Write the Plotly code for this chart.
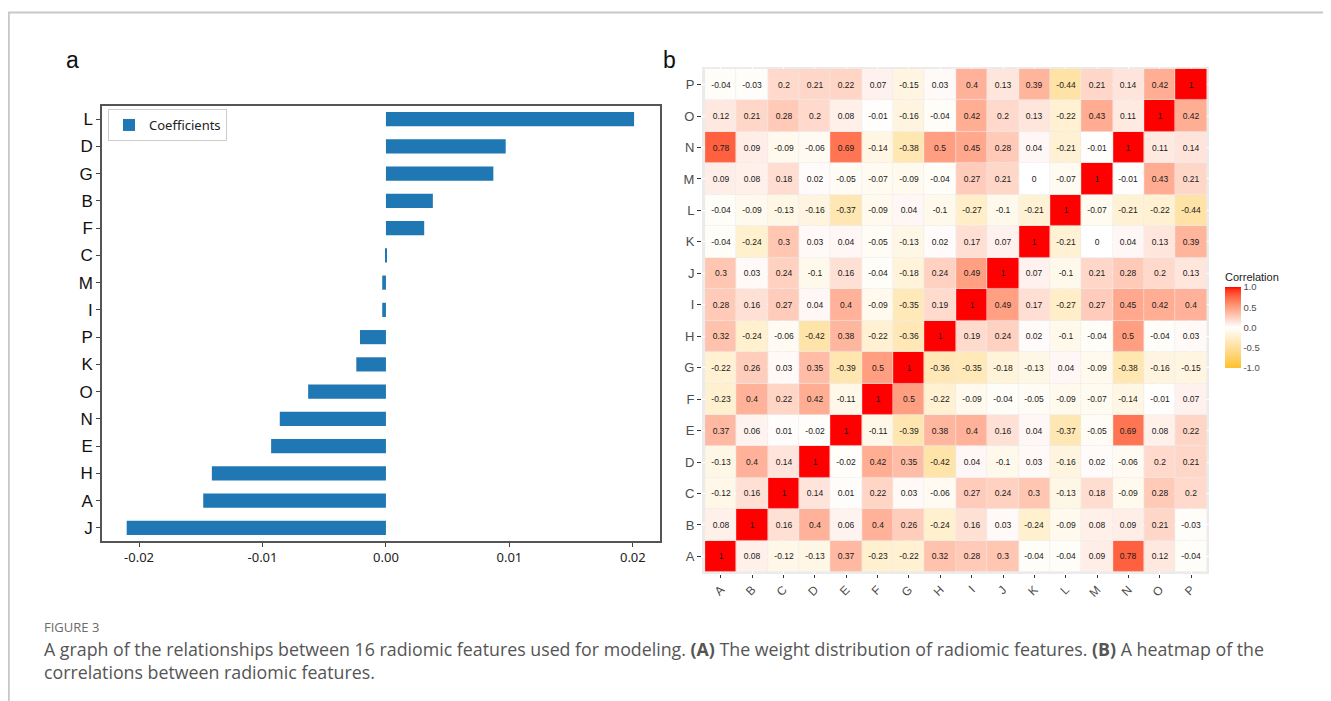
import plotly.graph_objects as go

# ---------------- data ----------------
features = list("ABCDEFGHIJKLMNOP")

coef_labels = ["J", "A", "H", "E", "N", "O", "K", "P", "I", "M", "C", "F", "B", "G", "D", "L"]
coef_values = [-0.0210, -0.0148, -0.0141, -0.0093, -0.0086, -0.0063, -0.0024, -0.0021,
               -0.0003, -0.0003, 0.00001, 0.0031, 0.0038, 0.0087, 0.0097, 0.0201]
coef_ticks = [-0.02, -0.01, 0.0, 0.01, 0.02]
coef_ticktext = ["-0.02", "-0.01", "0.00", "0.01", "0.02"]

# rows A..P (bottom to top), columns A..P
corr_A = [1, 0.08, -0.12, -0.13, 0.37, -0.23, -0.22, 0.32, 0.28, 0.3, -0.04, -0.04, 0.09, 0.78, 0.12, -0.04]
corr_B = [0.08, 1, 0.16, 0.4, 0.06, 0.4, 0.26, -0.24, 0.16, 0.03, -0.24, -0.09, 0.08, 0.09, 0.21, -0.03]
corr_C = [-0.12, 0.16, 1, 0.14, 0.01, 0.22, 0.03, -0.06, 0.27, 0.24, 0.3, -0.13, 0.18, -0.09, 0.28, 0.2]
corr_D = [-0.13, 0.4, 0.14, 1, -0.02, 0.42, 0.35, -0.42, 0.04, -0.1, 0.03, -0.16, 0.02, -0.06, 0.2, 0.21]
corr_E = [0.37, 0.06, 0.01, -0.02, 1, -0.11, -0.39, 0.38, 0.4, 0.16, 0.04, -0.37, -0.05, 0.69, 0.08, 0.22]
corr_F = [-0.23, 0.4, 0.22, 0.42, -0.11, 1, 0.5, -0.22, -0.09, -0.04, -0.05, -0.09, -0.07, -0.14, -0.01, 0.07]
corr_G = [-0.22, 0.26, 0.03, 0.35, -0.39, 0.5, 1, -0.36, -0.35, -0.18, -0.13, 0.04, -0.09, -0.38, -0.16, -0.15]
corr_H = [0.32, -0.24, -0.06, -0.42, 0.38, -0.22, -0.36, 1, 0.19, 0.24, 0.02, -0.1, -0.04, 0.5, -0.04, 0.03]
corr_I = [0.28, 0.16, 0.27, 0.04, 0.4, -0.09, -0.35, 0.19, 1, 0.49, 0.17, -0.27, 0.27, 0.45, 0.42, 0.4]
corr_J = [0.3, 0.03, 0.24, -0.1, 0.16, -0.04, -0.18, 0.24, 0.49, 1, 0.07, -0.1, 0.21, 0.28, 0.2, 0.13]
corr_K = [-0.04, -0.24, 0.3, 0.03, 0.04, -0.05, -0.13, 0.02, 0.17, 0.07, 1, -0.21, 0, 0.04, 0.13, 0.39]
corr_L = [-0.04, -0.09, -0.13, -0.16, -0.37, -0.09, 0.04, -0.1, -0.27, -0.1, -0.21, 1, -0.07, -0.21, -0.22, -0.44]
corr_M = [0.09, 0.08, 0.18, 0.02, -0.05, -0.07, -0.09, -0.04, 0.27, 0.21, 0, -0.07, 1, -0.01, 0.43, 0.21]
corr_N = [0.78, 0.09, -0.09, -0.06, 0.69, -0.14, -0.38, 0.5, 0.45, 0.28, 0.04, -0.21, -0.01, 1, 0.11, 0.14]
corr_O = [0.12, 0.21, 0.28, 0.2, 0.08, -0.01, -0.16, -0.04, 0.42, 0.2, 0.13, -0.22, 0.43, 0.11, 1, 0.42]
corr_P = [-0.04, -0.03, 0.2, 0.21, 0.22, 0.07, -0.15, 0.03, 0.4, 0.13, 0.39, -0.44, 0.21, 0.14, 0.42, 1]
corr = [corr_A, corr_B, corr_C, corr_D, corr_E, corr_F, corr_G, corr_H,
        corr_I, corr_J, corr_K, corr_L, corr_M, corr_N, corr_O, corr_P]
corr_text = [["{:g}".format(v) for v in row] for row in corr]

cbar_ticks = [-1, -0.5, 0, 0.5, 1]
cbar_ticktext = ["-1.0", "-0.5", "0.0", "0.5", "1.0"]

# ---------------- colour scale (Lab interpolation like ggplot) ----------------
def srgb_to_lin(c):
    c = c / 255.0
    return c / 12.92 if c <= 0.04045 else ((c + 0.055) / 1.055) ** 2.4

def lin_to_srgb(c):
    c = max(0.0, min(1.0, c))
    v = 12.92 * c if c <= 0.0031308 else 1.055 * c ** (1 / 2.4) - 0.055
    return int(round(max(0, min(1, v)) * 255))

def rgb_to_lab(rgb):
    r, g, b = [srgb_to_lin(c) for c in rgb]
    X = 0.4124 * r + 0.3576 * g + 0.1805 * b
    Y = 0.2126 * r + 0.7152 * g + 0.0722 * b
    Z = 0.0193 * r + 0.1192 * g + 0.9505 * b
    def f(t):
        return t ** (1 / 3) if t > 0.008856 else 7.787 * t + 16 / 116
    fx, fy, fz = f(X / 0.95047), f(Y), f(Z / 1.08883)
    return (116 * fy - 16, 500 * (fx - fy), 200 * (fy - fz))

def lab_to_rgb(lab):
    L, a, b = lab
    fy = (L + 16) / 116
    fx = fy + a / 500
    fz = fy - b / 200
    def finv(t):
        return t ** 3 if t ** 3 > 0.008856 else (t - 16 / 116) / 7.787
    X, Y, Z = 0.95047 * finv(fx), finv(fy), 1.08883 * finv(fz)
    r = 3.2406 * X - 1.5372 * Y - 0.4986 * Z
    g = -0.9689 * X + 1.8758 * Y + 0.0415 * Z
    bb = 0.0557 * X - 0.2040 * Y + 1.0570 * Z
    return (lin_to_srgb(r), lin_to_srgb(g), lin_to_srgb(bb))

low_rgb, mid_rgb, high_rgb = (255, 193, 37), (255, 255, 255), (255, 0, 0)
lab_low, lab_mid, lab_high = rgb_to_lab(low_rgb), rgb_to_lab(mid_rgb), rgb_to_lab(high_rgb)
colorscale = []
N = 20
for i in range(N + 1):
    t = i / N
    lab = tuple(lab_low[k] + (lab_mid[k] - lab_low[k]) * t for k in range(3))
    colorscale.append([0.5 * t, "rgb(%d,%d,%d)" % lab_to_rgb(lab)])
for i in range(1, N + 1):
    t = i / N
    lab = tuple(lab_mid[k] + (lab_high[k] - lab_mid[k]) * t for k in range(3))
    colorscale.append([0.5 + 0.5 * t, "rgb(%d,%d,%d)" % lab_to_rgb(lab)])

# ---------------- figure ----------------
# page body has an 8px margin, so the figure starts at (8, 8) in the window
OFF = 8
W, H = 1331 - OFF, 701 - OFF
def px(x):
    return (x - OFF) / W
def py(y):
    return 1 - (y - OFF) / H

fig = go.Figure()

fig.add_trace(go.Bar(
    x=coef_values, y=coef_labels, orientation="h", width=0.52,
    marker=dict(color="#1f77b4", line=dict(width=0)),
    name="Coefficients", showlegend=True,
    xaxis="x", yaxis="y",
))

fig.add_trace(go.Heatmap(
    z=corr, x=features, y=features, zmin=-1, zmax=1,
    colorscale=colorscale,
    text=corr_text, texttemplate="%{text}",
    textfont=dict(size=8.5, color="#1a1a1a", family="Liberation Sans, Arial"),
    xgap=0.6, ygap=0.6,
    xaxis="x2", yaxis="y2", showlegend=False,
    colorbar=dict(
        x=px(1225), xanchor="left", y=py(368), yanchor="bottom",
        len=98, lenmode="pixels", thickness=16, thicknessmode="pixels",
        ypad=0, xpad=0,
        outlinewidth=0, ticks="",
        tickvals=cbar_ticks, ticktext=cbar_ticktext,
        tickfont=dict(size=9.5, color="#4d4d4d", family="Liberation Sans, Arial"),
        title=dict(text="Correlation", side="top",
                   font=dict(size=11, color="#1a1a1a", family="Liberation Sans, Arial")),
    ),
))

fig.update_layout(
    width=W, height=H,
    margin=dict(l=0, r=0, t=0, b=0),
    paper_bgcolor="white",
    plot_bgcolor="rgba(0,0,0,0)",
    xaxis=dict(
        domain=[px(102), px(660)], range=[-0.0230, 0.0222],
        tickvals=coef_ticks, ticktext=coef_ticktext,
        tickfont=dict(size=13, color="#222", family="Noto Sans, Open Sans"),
        ticks="outside", ticklen=4, tickcolor="#444",
        showline=True, linecolor="#555", linewidth=1.5, mirror=True,
        showgrid=False, zeroline=False, anchor="y",
    ),
    yaxis=dict(
        domain=[py(541), py(106)], range=[-0.48, 15.48],
        type="category", categoryorder="array", categoryarray=coef_labels,
        tickfont=dict(size=17, color="#111", family="Liberation Sans, Arial"),
        ticks="outside", ticklen=4, tickcolor="#444",
        showline=True, linecolor="#555", linewidth=1.5, mirror=True,
        showgrid=False, zeroline=False, anchor="x",
    ),
    xaxis2=dict(
        domain=[px(702), px(1209)], range=[-0.6, 15.57],
        type="category", categoryorder="array", categoryarray=features,
        tickangle=-45,
        tickfont=dict(size=12, color="#4d4d4d", family="Liberation Sans, Arial"),
        ticks="outside", ticklen=3, tickcolor="#333",
        showgrid=True, gridcolor="white", gridwidth=1,
        showline=False, zeroline=False, anchor="y2",
    ),
    yaxis2=dict(
        domain=[py(574), py(67)], range=[-0.56, 15.56],
        type="category", categoryorder="array", categoryarray=features,
        tickfont=dict(size=13, color="#4d4d4d", family="Liberation Sans, Arial"),
        ticks="outside", ticklen=4, tickcolor="#333",
        showgrid=True, gridcolor="white", gridwidth=1,
        showline=False, zeroline=False, anchor="x2",
    ),
    legend=dict(
        x=px(108), y=py(109), xanchor="left", yanchor="top",
        bgcolor="white", bordercolor="#cccccc", borderwidth=1,
        font=dict(size=13, color="#222", family="Noto Sans, Open Sans"),
        itemwidth=30,
    ),
    shapes=[
        dict(type="rect", xref="paper", yref="paper",
             x0=px(702), x1=px(1209), y0=py(574), y1=py(67),
             fillcolor="#ebebeb", line=dict(width=0), layer="below"),
        dict(type="line", xref="paper", yref="paper",
             x0=px(8), x1=1, y0=py(12.5), y1=py(12.5),
             line=dict(color="#c8c8c8", width=2)),
        dict(type="line", xref="paper", yref="paper",
             x0=px(8.8), x1=px(8.8), y0=py(12.5), y1=0,
             line=dict(color="#c8c8c8", width=2)),
    ],
    annotations=[
        dict(text="a", x=px(64), y=py(60), xref="paper", yref="paper",
             xanchor="left", yanchor="middle", showarrow=False,
             font=dict(size=23, color="#111", family="Liberation Sans, Arial")),
        dict(text="b", x=px(661), y=py(60), xref="paper", yref="paper",
             xanchor="left", yanchor="middle", showarrow=False,
             font=dict(size=23, color="#111", family="Liberation Sans, Arial")),
        dict(text="FIGURE 3", x=px(42), y=py(627), xref="paper", yref="paper",
             xanchor="left", yanchor="middle", showarrow=False,
             font=dict(size=13, color="#6b6b6b", family="Open Sans")),
        dict(text="A graph of the relationships between 16 radiomic features used for modeling. "
                  "<b>(A)</b> The weight distribution of radiomic features. <b>(B)</b> A heatmap of the",
             x=px(42), y=py(649), xref="paper", yref="paper",
             xanchor="left", yanchor="middle", showarrow=False,
             font=dict(size=17.8, color="#555555", family="Open Sans")),
        dict(text="correlations between radiomic features.",
             x=px(42), y=py(672), xref="paper", yref="paper",
             xanchor="left", yanchor="middle", showarrow=False,
             font=dict(size=17.8, color="#555555", family="Open Sans")),
    ],
)

fig.write_html("out.html")
